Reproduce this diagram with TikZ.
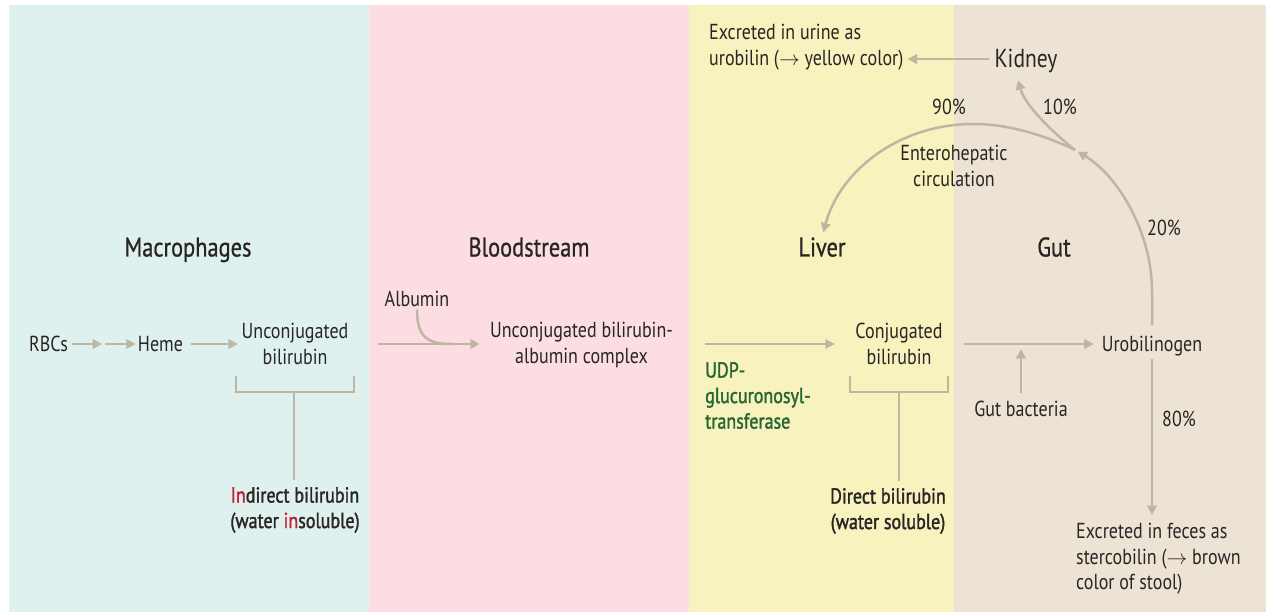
\documentclass[tikz,border=0pt]{standalone}
\usepackage{fontspec}
\setmainfont{PT Sans}[FakeStretch=0.83]
\newfontfamily\medfont{PT Sans}[FakeStretch=0.83,FakeBold=1.6]
\newfontfamily\headfont{PT Sans}[FakeStretch=0.83,FakeBold=0.8]
\usetikzlibrary{arrows.meta,calc}
\definecolor{macbg}{RGB}{223,241,239}
\definecolor{bloodbg}{RGB}{252,221,226}
\definecolor{liverbg}{RGB}{248,242,190}
\definecolor{gutbg}{RGB}{237,227,213}
\definecolor{arr}{RGB}{190,182,162}
\definecolor{txt}{RGB}{40,38,36}
\definecolor{redin}{RGB}{192,32,58}
\definecolor{udpgreen}{RGB}{38,104,48}
\begin{document}
\begin{tikzpicture}[x=1pt,y=-1pt,
  lbl/.style={text=txt,font=\fontsize{21.7}{25.5}\selectfont,inner sep=0pt,align=center},
  one/.style={lbl,text height=15pt,text depth=0pt},
  lblL/.style={lbl,align=left},
  bld/.style={lbl,font=\medfont\fontsize{21.7}{25.5}\selectfont},
  head/.style={text=txt,font=\headfont\fontsize{27}{30}\selectfont,inner sep=0pt,text height=19pt,text depth=0pt},
  kidn/.style={text=txt,font=\fontsize{26}{28}\selectfont,inner sep=0pt,text height=18pt,text depth=0pt},
  flow/.style={draw=arr,line width=2.5pt,-{Triangle[length=9.5pt,width=9.5pt]}},
  plainline/.style={draw=arr,line width=2.5pt},
  brk/.style={draw=arr,line width=1.5pt},
]
% background panels
\fill[white] (0,0) rectangle (1266,612);
\fill[macbg] (9,5) rectangle (369,612);
\fill[bloodbg] (369,5) rectangle (689,612);
\fill[liverbg] (689,5) rectangle (954,612);
\fill[gutbg] (954,5) rectangle (1266,612);
\useasboundingbox (0,0) rectangle (1266,612);

% headings
\node[head] (hmac) at (188,247) {Macrophages};
\node[head] (hblood) at (529,247) {Bloodstream};
\node[head] (liver) at (822,247) {Liver};
\node[head] (gut) at (1054,247) {Gut};

% macrophages
\node[one,minimum width=39pt] (rbc) at (48.5,344) {RBCs};
\coordinate (mid1) at (103.5,344);
\node[one,minimum width=45pt] (heme) at (160.5,344) {Heme};
\node[lbl,minimum width=108pt] (ub) at (295,344) {Unconjugated\\bilirubin};
\draw[flow,shorten <=3.5pt,shorten >=1.5pt] (rbc) -- (mid1);
\draw[flow,shorten <=1.5pt,shorten >=2pt] (mid1) -- (heme);
\draw[flow,shorten <=8pt,shorten >=3pt] (heme) -- (ub);
\draw[brk] (236,376) -- (236,392) -- (354,392) -- (354,376);
\coordinate (ubk) at (294,392);
\node[bld] (ind) at (295,510) {{\color{redin}In}direct bilirubin\\(water {\color{redin}in}soluble)};
\draw[brk,shorten >=7pt] (ubk) -- (ind.north -| ubk);

% bloodstream
\node[one] (alb) at (417,299) {Albumin};
\node[lbl,minimum width=187pt] (ubac) at (581.5,345) {Unconjugated bilirubin-\\albumin complex};
\coordinate (join) at (452,344);
\draw[flow,shorten <=29pt,shorten >=8pt] (ub.east) -- (ub.east -| ubac.west);
\draw[plainline] ([yshift=-3pt]alb.south) .. controls +(0,28) and +(-24,0) .. (join);

% liver
\node[lbl,minimum width=88pt] (cb) at (899,344) {Conjugated\\bilirubin};
\draw[flow,shorten <=30pt,shorten >=20pt] (ubac.east |- cb.west) -- (cb.west);
\node[bld,text=udpgreen,align=left,anchor=north west] (udp) at (705,362) {UDP-\\glucuronosyl-\\transferase};
\draw[brk] (850,376) -- (850,392) -- (948,392) -- (948,376);
\coordinate (cbk) at (899,392);
\node[bld] (dir) at (888,511) {Direct bilirubin\\(water soluble)};
\draw[brk,shorten >=7pt] (cbk) -- (dir.north -| cbk);

% gut
\node[one,minimum width=100pt] (uro) at (1152,344) {Urobilinogen};
\draw[flow,shorten <=21pt,shorten >=8pt] (cb) -- (uro);
\node[one] (gb) at (1021,409) {Gut bacteria};
\coordinate (gbt) at (1021,349);
\draw[flow,shorten <=8pt] (gb) -- (gbt);
\node[lblL,anchor=north west] (fec) at (1076,523) {Excreted in feces as\\stercobilin ($\rightarrow$ brown\\color of stool)};
\draw[flow,shorten <=7pt,shorten >=8pt] (uro.south) -- (uro.south |- fec.north);
\node[one] (p80) at (1179,419) {80\%};

% top: kidney and enterohepatic circulation
\node[kidn] (kid) at (1026,59) {Kidney};
\node[lblL,anchor=north west] (urine) at (709,24) {Excreted in urine as\\urobilin ($\rightarrow$ yellow color)};
\draw[flow,shorten <=5pt,shorten >=4pt] (kid.west) -- (kid.west -| urine.east);
\coordinate (junc) at (1075,150);
\draw[flow,shorten <=11pt,shorten >=3pt] (uro.north) -- ++(0,-45) .. controls +(0,-60) and +(42,25) .. (junc);
\draw[flow,shorten >=5pt] (junc) .. controls (1040,133) and (1005,124) .. (973,124) .. controls (900,124) and (840,170) .. (liver.north);
\draw[flow] (junc) .. controls (1050,130) and (1025,105) .. ([xshift=-8pt,yshift=-12pt]kid.south);
\node[one] (p90) at (949,107) {90\%};
\node[one] (p10) at (1060,107) {10\%};
\node[one] (p20) at (1164,228) {20\%};
\node[lbl] (ent) at (954,166) {Enterohepatic\\circulation};
\end{tikzpicture}
\end{document}
